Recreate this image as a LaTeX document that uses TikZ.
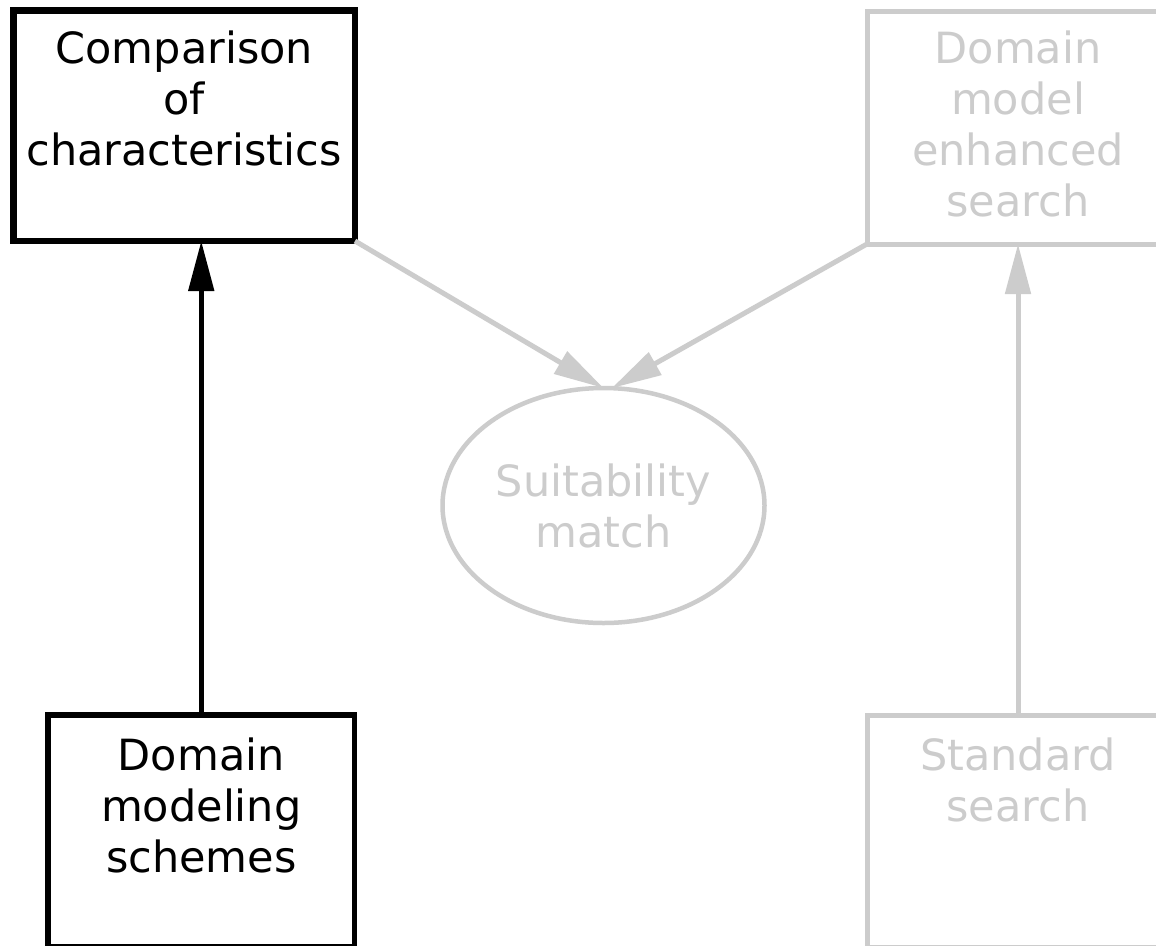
\documentclass[tikz,border=0pt]{standalone}
\usepackage{fontspec}
\setmainfont{DejaVu Sans}
\usetikzlibrary{shapes.geometric,arrows.meta}
\definecolor{faded}{HTML}{CCCCCC}
\newcommand{\boxtxt}[4]{\parbox[t][#3][t]{#2}{\centering\rule{0pt}{#1}#4}}
\tikzset{
  every node/.style={font=\fontsize{43}{51}\selectfont, inner sep=0pt, outer sep=0pt},
  darkbox/.style={draw=black, rectangle, anchor=north west},
  lightbox/.style={draw=faded, text=faded, rectangle, anchor=north west, line width=5pt},
  lightell/.style={draw=faded, text=faded, ellipse, line width=4.5pt, align=center,
    minimum width=322pt, minimum height=235pt},
  darkarrow/.style={draw=black, line width=5pt, -{Triangle[length=50pt,width=25pt]}},
  lightarrow/.style={draw=faded, line width=5pt, -{Triangle[length=50pt,width=25pt]}}
}
\begin{document}
\begin{tikzpicture}[x=1pt,y=-1pt]
\useasboundingbox (0,0) rectangle (1156,945);
\clip (0,0) rectangle (1156,945);
\fill[white] (0,0) rectangle (1156,945);

\node[darkbox, line width=6.5pt] (cmp) at (13.5,10.5)
  {\boxtxt{52.5pt}{341.5pt}{230.5pt}{Comparison\\of\\characteristics}};
\node[lightbox] (dmes) at (867,11.5)
  {\boxtxt{51.5pt}{302pt}{232.5pt}{Domain\\model\\enhanced\\search}};
\node[lightell] (suit) at (603.5,505.5) {Suitability\\match};
\node[darkbox, line width=5.5pt] (dms) at (48,715)
  {\boxtxt{55pt}{306.5pt}{232pt}{Domain\\modeling\\schemes}};
\node[lightbox] (std) at (867,715)
  {\boxtxt{55pt}{302pt}{232pt}{Standard\\search}};

\draw[darkarrow] (dms.north) -- (dms.north |- cmp.south);
\draw[lightarrow] (std.north) -- (std.north |- dmes.south);
\draw[lightarrow] (cmp.south east) -- (suit.north);
\draw[lightarrow] (dmes.south west) -- (suit.86);
\end{tikzpicture}
\end{document}
